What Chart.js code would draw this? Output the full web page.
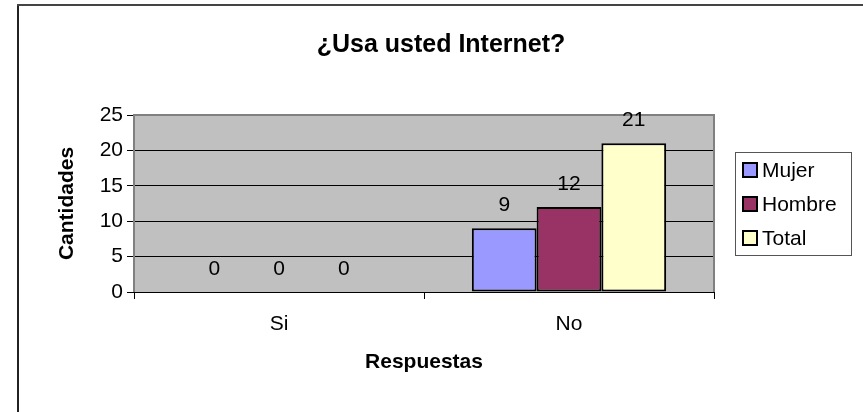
<!DOCTYPE html>
<html>
<head>
<meta charset="utf-8">
<script src="https://cdn.jsdelivr.net/npm/chart.js@4/dist/chart.umd.min.js"></script>
<style>
  html, body { margin: 0; padding: 0; background: #fff; }
  #wrap { width: 863px; height: 412px; position: relative; }
</style>
</head>
<body>
<div id="wrap"><canvas id="myChart" width="863" height="412"></canvas></div>
<script>
// chart data
var categories = ['Si', 'No'];
var seriesNames = ['Mujer', 'Hombre', 'Total'];
var mujer = [0, 9];
var hombre = [0, 12];
var total = [0, 21];
var yTicks = [0, 5, 10, 15, 20, 25];

var colors = ['#9999FF', '#993366', '#FFFFCC'];
var FONT = '"Liberation Sans", Arial, sans-serif';

// frame, plot background, titles, value labels and legend box
var decor = {
    id: 'decor',
    beforeDraw: function (chart) {
        var ctx = chart.ctx, a = chart.chartArea;
        ctx.save();
        ctx.fillStyle = '#C0C0C0';
        ctx.fillRect(a.left, a.top, a.right - a.left, a.bottom - a.top);
        ctx.restore();
    },
    afterDatasetsDraw: function (chart) {
        var ctx = chart.ctx, a = chart.chartArea;
        ctx.save();
        // plot border (grey) on top, left, right
        ctx.strokeStyle = '#808080';
        ctx.lineWidth = 2;
        ctx.beginPath();
        ctx.moveTo(a.left, a.bottom);
        ctx.lineTo(a.left, a.top);
        ctx.lineTo(a.right, a.top);
        ctx.lineTo(a.right, a.bottom);
        ctx.stroke();
        // axis line
        ctx.strokeStyle = '#000';
        ctx.lineWidth = 1;
        ctx.beginPath();
        ctx.moveTo(a.left, a.bottom + 0.5);
        ctx.lineTo(a.right, a.bottom + 0.5);
        ctx.stroke();

        // outer frame
        ctx.lineWidth = 2;
        ctx.strokeStyle = '#222';
        ctx.beginPath();
        ctx.moveTo(18, 412);
        ctx.lineTo(18, 5);
        ctx.stroke();
        ctx.strokeStyle = '#444';
        ctx.beginPath();
        ctx.moveTo(17, 5);
        ctx.lineTo(863, 5);
        ctx.stroke();

        // value labels
        ctx.fillStyle = '#000';
        ctx.font = '21px ' + FONT;
        ctx.textAlign = 'center';
        ctx.textBaseline = 'middle';
        chart.data.datasets.forEach(function (ds, i) {
            chart.getDatasetMeta(i).data.forEach(function (bar, j) {
                ctx.fillText(String(ds.data[j]), bar.x, bar.y - 23);
            });
        });

        // titles
        ctx.font = 'bold 25px ' + FONT;
        ctx.fillText('¿Usa usted Internet?', 441, 45);
        ctx.font = 'bold 21px ' + FONT;
        ctx.fillText('Respuestas', (a.left + a.right) / 2, 362);
        ctx.save();
        ctx.translate(67, (a.top + a.bottom) / 2);
        ctx.rotate(-Math.PI / 2);
        ctx.fillText('Cantidades', 0, 0);
        ctx.restore();

        // legend
        ctx.fillStyle = '#fff';
        ctx.fillRect(735, 152, 116, 103);
        ctx.strokeStyle = '#555';
        ctx.lineWidth = 1;
        ctx.strokeRect(735.5, 152.5, 116, 103);
        ctx.font = '21px ' + FONT;
        ctx.textAlign = 'left';
        seriesNames.forEach(function (name, i) {
            var cy = 170 + i * 34;
            ctx.fillStyle = colors[i];
            ctx.fillRect(743, cy - 7, 14, 14);
            ctx.strokeStyle = '#000';
            ctx.lineWidth = 2;
            ctx.strokeRect(743, cy - 7, 14, 14);
            ctx.fillStyle = '#000';
            ctx.fillText(name, 762, cy + 1);
        });
        ctx.restore();
    }
};

var ctx = document.getElementById('myChart').getContext('2d');
var chart = new Chart(ctx, {
    type: 'bar',
    data: {
        labels: categories,
        datasets: [
            { label: seriesNames[0], data: mujer, backgroundColor: colors[0] },
            { label: seriesNames[1], data: hombre, backgroundColor: colors[1] },
            { label: seriesNames[2], data: total, backgroundColor: colors[2] }
        ].map(function (d) {
            d.borderColor = '#000';
            d.borderWidth = 2;
            d.borderSkipped = false;
            d.categoryPercentage = 0.67;
            d.barPercentage = 1.0;
            return d;
        })
    },
    options: {
        responsive: false,
        animation: false,
        events: [],
        layout: { padding: { left: 0, top: 115, right: 149, bottom: 0 } },
        plugins: {
            legend: { display: false },
            title: { display: false },
            tooltip: { enabled: false }
        },
        scales: {
            x: {
                afterFit: function (s) { s.height = 120; },
                grid: {
                    offset: true,
                    drawOnChartArea: false,
                    drawTicks: true,
                    tickLength: 7,
                    tickColor: '#000'
                },
                border: { display: false },
                ticks: {
                    padding: 13,
                    color: '#000',
                    font: { family: FONT, size: 21 }
                }
            },
            y: {
                min: 0,
                max: 25,
                afterFit: function (s) { s.width = 134; },
                afterBuildTicks: function (s) {
                    s.ticks = yTicks.map(function (v) { return { value: v }; });
                },
                grid: {
                    color: function (c) {
                        var v = c.tick ? c.tick.value : 0;
                        return (v > 0 && v < 25) ? '#000' : 'rgba(0,0,0,0)';
                    },
                    tickColor: '#000',
                    tickLength: 7,
                    lineWidth: 1
                },
                border: { display: false },
                ticks: {
                    padding: 4,
                    color: '#000',
                    font: { family: FONT, size: 21 }
                }
            }
        }
    },
    plugins: [decor]
});
</script>
</body>
</html>
